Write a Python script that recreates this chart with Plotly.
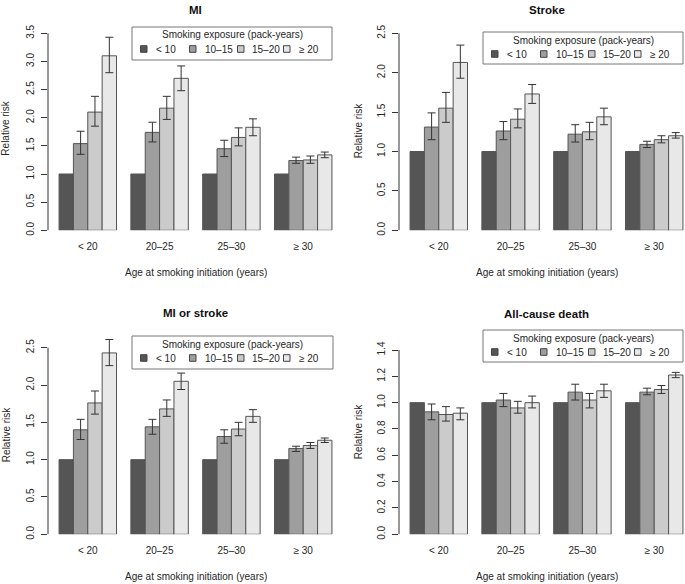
import plotly.graph_objects as go

# ---------------- data ----------------
age_groups = ["< 20", "20–25", "25–30", "≥ 30"]
exposure_levels = ["< 10", "10–15", "15–20", "≥ 20"]
panel_titles = ["MI", "Stroke", "MI or stroke", "All-cause death"]

# rows = exposure level, columns = age at initiation
mi_rr = [[1.00, 1.00, 1.00, 1.00], [1.54, 1.74, 1.45, 1.24], [2.10, 2.17, 1.65, 1.25], [3.10, 2.70, 1.83, 1.34]]
mi_lo = [None, [1.35, 1.57, 1.31, 1.19], [1.85, 1.97, 1.50, 1.19], [2.80, 2.48, 1.68, 1.29]]
mi_hi = [None, [1.76, 1.92, 1.60, 1.30], [2.38, 2.38, 1.82, 1.32], [3.43, 2.92, 1.98, 1.39]]

stroke_rr = [[1.00, 1.00, 1.00, 1.00], [1.31, 1.26, 1.22, 1.09], [1.55, 1.41, 1.25, 1.15], [2.13, 1.73, 1.44, 1.20]]
stroke_lo = [None, [1.15, 1.15, 1.12, 1.05], [1.37, 1.30, 1.15, 1.11], [1.93, 1.61, 1.34, 1.17]]
stroke_hi = [None, [1.49, 1.38, 1.34, 1.13], [1.75, 1.54, 1.37, 1.20], [2.35, 1.85, 1.55, 1.24]]

mis_rr = [[1.00, 1.00, 1.00, 1.00], [1.40, 1.44, 1.31, 1.15], [1.76, 1.68, 1.41, 1.19], [2.43, 2.05, 1.58, 1.26]]
mis_lo = [None, [1.27, 1.34, 1.22, 1.11], [1.61, 1.58, 1.32, 1.15], [2.26, 1.94, 1.50, 1.23]]
mis_hi = [None, [1.54, 1.54, 1.40, 1.18], [1.92, 1.80, 1.50, 1.23], [2.61, 2.16, 1.67, 1.29]]

death_rr = [[1.00, 1.00, 1.00, 1.00], [0.93, 1.02, 1.08, 1.08], [0.91, 0.96, 1.02, 1.10], [0.92, 1.00, 1.09, 1.21]]
death_lo = [None, [0.87, 0.97, 1.02, 1.06], [0.86, 0.92, 0.96, 1.07], [0.87, 0.96, 1.04, 1.19]]
death_hi = [None, [0.99, 1.07, 1.14, 1.11], [0.97, 1.01, 1.07, 1.13], [0.96, 1.05, 1.14, 1.23]]

y_top_ticks = [3.5, 2.5, 2.5, 1.4]
y_dticks = [0.5, 0.5, 0.5, 0.2]

bar_colors = ["#555555", "#9e9e9e", "#cbcbcb", "#e8e8e8"]

# ---------------- layout helpers ----------------
W, H = 685, 584
def px(x):
    return x / W
def py(y):
    return 1 - y / H

FONT = "Liberation Sans, Arial, sans-serif"
TXT = "#262626"

panels = [
    dict(xl=48, xr=343, y0=230.3, yt=33.3, ytop=27, cx=195.5, ty=10, laby=248, xty=272, ytx=6,
         leg=(132, 332, 27, 60)),
    dict(xl=399, xr=694, y0=230.3, yt=33.3, ytop=32, cx=546.5, ty=10, laby=248, xty=272, ytx=358,
         leg=(483, 683, 32, 64)),
    dict(xl=48, xr=343, y0=534.3, yt=347.7, ytop=336, cx=195.5, ty=313, laby=552, xty=576, ytx=6,
         leg=(132, 333, 336, 369)),
    dict(xl=399, xr=694, y0=534.3, yt=350.0, ytop=330, cx=546.5, ty=314, laby=552, xty=576, ytx=358,
         leg=(483, 683, 330, 362)),
]

series = [
    (mi_rr, mi_lo, mi_hi),
    (stroke_rr, stroke_lo, stroke_hi),
    (mis_rr, mis_lo, mis_hi),
    (death_rr, death_lo, death_hi),
]

fig = go.Figure()
shapes = []
annotations = []

XR0 = -0.554  # left end of category axis (R's 4% padding)
for k, (p, (rr, lo, hi)) in enumerate(zip(panels, series)):
    ax = "" if k == 0 else str(k + 1)
    xa, ya = "x" + ax, "y" + ax
    for j, lev in enumerate(exposure_levels):
        err = None
        if lo[j] is not None:
            err = dict(type="data", symmetric=False,
                       array=[h - v for h, v in zip(hi[j], rr[j])],
                       arrayminus=[v - l for v, l in zip(rr[j], lo[j])],
                       color="#333333", thickness=1, width=4, visible=True)
        fig.add_trace(go.Bar(
            x=age_groups, y=rr[j], name=lev, xaxis=xa, yaxis=ya,
            marker=dict(color=bar_colors[j], line=dict(color="#555555", width=1)),
            error_y=err if err else dict(visible=False),
            showlegend=False, offsetgroup=str(j),
        ))
    xr_clip = min(p["xr"], W)
    ppu = (p["xr"] - p["xl"]) / 4.108
    x_range = [XR0, XR0 + (xr_clip - p["xl"]) / ppu]
    ymax = y_top_ticks[k] * (p["y0"] - p["ytop"]) / (p["y0"] - p["yt"])
    fig.layout["xaxis" + ax] = dict(
        domain=[px(p["xl"]), px(xr_clip)], anchor=ya, type="category",
        range=x_range, showline=False, showgrid=False, zeroline=False,
        ticks="", tickfont=dict(family=FONT, size=10, color=TXT),
        ticklabelstandoff=9, automargin=False,
    )
    fig.layout["yaxis" + ax] = dict(
        domain=[py(p["y0"]), py(p["ytop"])], anchor=xa,
        range=[0, ymax], tick0=0, dtick=y_dticks[k], tickformat=".1f",
        showline=False, showgrid=False, zeroline=False,
        ticks="outside", ticklen=6, tickcolor="#333333", tickwidth=1,
        tickangle=-90, tickfont=dict(family=FONT, size=10, color=TXT),
        ticklabelstandoff=3, automargin=False,
    )
    shapes.append(dict(type="line", xref=xa + " domain", yref=ya, x0=0, x1=0,
                       y0=0, y1=y_top_ticks[k], line=dict(color="#333333", width=1)))
    annotations.append(dict(text="<b>" + panel_titles[k] + "</b>", xref="paper", yref="paper",
                            x=px(p["cx"]), y=py(p["ty"]), showarrow=False, xanchor="center",
                            yanchor="middle", font=dict(family=FONT, size=11.5, color="#111111")))
    annotations.append(dict(text="Age at smoking initiation (years)", xref="paper", yref="paper",
                            x=px(p["cx"]), y=py(p["xty"]), showarrow=False, xanchor="center",
                            yanchor="middle", font=dict(family=FONT, size=10, color=TXT)))
    annotations.append(dict(text="Relative risk", xref="paper", yref="paper", textangle=-90,
                            x=px(p["ytx"]), y=py((p["y0"] + p["ytop"]) / 2), showarrow=False,
                            xanchor="center", yanchor="middle",
                            font=dict(family=FONT, size=10, color=TXT)))
    lx0, lx1, ly0, ly1 = p["leg"]
    shapes.append(dict(type="rect", xref="paper", yref="paper", x0=px(lx0), x1=px(lx1),
                       y0=py(ly1), y1=py(ly0), line=dict(color="#777777", width=1),
                       fillcolor="white", layer="above"))
    annotations.append(dict(text="Smoking exposure (pack-years)", xref="paper", yref="paper",
                            x=px((lx0 + lx1) / 2), y=py(ly0 + 8), showarrow=False,
                            xanchor="center", yanchor="middle",
                            font=dict(family=FONT, size=10, color=TXT)))
    sq_off = [8.5, 57.5, 105.5, 151.5]
    tx_off = [21.5, 71.0, 118.0, 164.5]
    iy = ly0 + 22
    for j, lev in enumerate(exposure_levels):
        sx = lx0 + sq_off[j]
        shapes.append(dict(type="rect", xref="paper", yref="paper", x0=px(sx), x1=px(sx + 6.5),
                           y0=py(iy + 3.3), y1=py(iy - 3.3), fillcolor=bar_colors[j],
                           line=dict(color="#444444", width=1), layer="above"))
        annotations.append(dict(text=lev, xref="paper", yref="paper", x=px(lx0 + tx_off[j]),
                                y=py(iy), showarrow=False, xanchor="left", yanchor="middle",
                                font=dict(family=FONT, size=10, color=TXT)))

fig.update_layout(
    width=W, height=H, autosize=False,
    margin=dict(l=0, r=0, t=0, b=0, pad=0, autoexpand=False),
    paper_bgcolor="white", plot_bgcolor="white",
    barmode="group", bargap=0.2, bargroupgap=0,
    shapes=shapes, annotations=annotations,
    font=dict(family=FONT, size=10, color=TXT),
)

fig.write_html("out.html", config={"displayModeBar": False},
               post_script="document.body.style.margin='0';document.body.style.overflow='hidden';")
